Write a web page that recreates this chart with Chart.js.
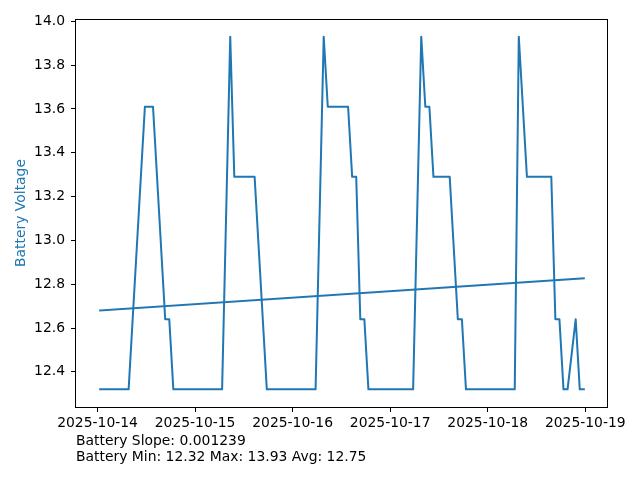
<!DOCTYPE html>
<html>
<head>
<meta charset="utf-8">
<script src="https://cdn.jsdelivr.net/npm/chart.js@4/dist/chart.umd.min.js"></script>
<style>
  body { margin: 0; background: #fff; }
  canvas { display: block; }
</style>
</head>
<body>
<canvas id="chart" width="640" height="480"></canvas>
<script>
// readings (UTC timestamps) and battery voltage at each one
const timestamps = [
    '2025-10-14T00:39', '2025-10-14T07:39', '2025-10-14T11:39', '2025-10-14T13:39',
    '2025-10-14T16:39', '2025-10-14T17:39', '2025-10-14T18:39', '2025-10-15T06:39',
    '2025-10-15T08:39', '2025-10-15T09:39', '2025-10-15T14:39', '2025-10-15T17:39',
    '2025-10-16T05:39', '2025-10-16T07:39', '2025-10-16T08:39', '2025-10-16T13:39',
    '2025-10-16T14:39', '2025-10-16T15:39', '2025-10-16T16:39', '2025-10-16T17:39',
    '2025-10-16T18:39', '2025-10-17T05:39', '2025-10-17T07:39', '2025-10-17T08:39',
    '2025-10-17T09:39', '2025-10-17T10:39', '2025-10-17T14:39', '2025-10-17T16:39',
    '2025-10-17T17:39', '2025-10-17T18:39', '2025-10-18T06:39', '2025-10-18T07:39',
    '2025-10-18T09:39', '2025-10-18T15:39', '2025-10-18T16:39', '2025-10-18T17:39',
    '2025-10-18T18:39', '2025-10-18T19:39', '2025-10-18T21:39', '2025-10-18T22:39',
    '2025-10-18T23:39'
];
const voltages = [
    12.32, 12.32, 13.61, 13.61,
    12.64, 12.64, 12.32, 12.32,
    13.93, 13.29, 13.29, 12.32,
    12.32, 13.93, 13.61, 13.61,
    13.29, 13.29, 12.64, 12.64,
    12.32, 12.32, 13.93, 13.61,
    13.61, 13.29, 13.29, 12.64,
    12.64, 12.32, 12.32, 13.93,
    13.29, 13.29, 12.64, 12.64,
    12.32, 12.32, 12.64, 12.32,
    12.32
];
// fitted trend line, first and last reading
const trendTimes = ['2025-10-14T00:39', '2025-10-18T23:39'];
const trendValues = [12.68, 12.827];

const dateTicks = ['2025-10-14', '2025-10-15', '2025-10-16', '2025-10-17', '2025-10-18', '2025-10-19'];
const voltageTicks = [12.4, 12.6, 12.8, 13.0, 13.2, 13.4, 13.6, 13.8, 14.0];

const infoLines = [
    'Battery Slope: 0.001239',
    'Battery Min: 12.32 Max: 13.93 Avg: 12.75'
];

const BASE = Date.parse('2025-10-14T00:00Z');
const toHours = s => (Date.parse(s + 'Z') - BASE) / 3600000;

const points = timestamps.map((t, i) => ({ x: toHours(t), y: voltages[i] }));
const trend = trendTimes.map((t, i) => ({ x: toHours(t), y: trendValues[i] }));

// matplotlib style 5% margins
const xs = points.map(p => p.x);
const ys = points.map(p => p.y);
const xMin = Math.min(...xs), xMax = Math.max(...xs);
const yMin = Math.min(...ys), yMax = Math.max(...ys);
const xPad = (xMax - xMin) * 0.05;
const yPad = (yMax - yMin) * 0.05;

const FONT = { family: 'DejaVu Sans', size: 13.9 };
const BLUE = '#1f77b4';

const frameAndText = {
    id: 'frameAndText',
    afterDraw(chart) {
        const { ctx, chartArea } = chart;
        ctx.save();
        ctx.strokeStyle = '#000';
        ctx.lineWidth = 1;
        ctx.strokeRect(Math.round(chartArea.left) - 0.5, Math.round(chartArea.top) + 0.5,
            Math.round(chartArea.right - chartArea.left), Math.round(chartArea.bottom - chartArea.top));
        ctx.fillStyle = '#000';
        ctx.font = '13.9px "DejaVu Sans"';
        ctx.textAlign = 'left';
        ctx.textBaseline = 'alphabetic';
        infoLines.forEach((line, i) => {
            ctx.fillText(line, chartArea.left, 445 + i * 16);
        });
        ctx.restore();
    }
};

new Chart(document.getElementById('chart'), {
    type: 'line',
    data: {
        datasets: [
            {
                label: 'Battery Voltage',
                data: points,
                borderColor: BLUE,
                borderWidth: 2,
                pointRadius: 0,
                tension: 0,
                borderCapStyle: 'square',
                borderJoinStyle: 'round',
                fill: false
            },
            {
                label: 'Trend',
                data: trend,
                borderColor: BLUE,
                borderWidth: 2,
                pointRadius: 0,
                borderCapStyle: 'square',
                fill: false
            }
        ]
    },
    options: {
        responsive: false,
        animation: false,
        events: [],
        layout: { padding: { top: 19, right: 32, left: 0, bottom: 0 } },
        plugins: {
            legend: { display: false },
            tooltip: { enabled: false }
        },
        scales: {
            x: {
                type: 'linear',
                min: xMin - xPad,
                max: xMax + xPad,
                afterFit: scale => { scale.height = 73; },
                afterBuildTicks: scale => {
                    scale.ticks = dateTicks.map(d => ({ value: toHours(d + 'T00:00') }));
                },
                border: { display: false },
                grid: {
                    drawOnChartArea: false,
                    drawTicks: true,
                    tickLength: 5,
                    color: '#000'
                },
                ticks: {
                    autoSkip: false,
                    maxRotation: 0,
                    padding: 3,
                    color: '#000',
                    font: FONT,
                    callback: v => new Date(BASE + v * 3600000).toISOString().slice(0, 10)
                }
            },
            y: {
                min: yMin - yPad,
                max: yMax + yPad,
                afterFit: scale => { scale.width = 76; },
                afterBuildTicks: scale => {
                    scale.ticks = voltageTicks.map(v => ({ value: v }));
                },
                border: { display: false },
                grid: {
                    drawOnChartArea: false,
                    drawTicks: true,
                    tickLength: 5,
                    color: '#000'
                },
                ticks: {
                    padding: 6,
                    color: '#000',
                    font: FONT,
                    callback: v => v.toFixed(1)
                },
                title: {
                    display: true,
                    text: 'Battery Voltage',
                    color: BLUE,
                    font: FONT,
                    padding: { top: 13, bottom: 0 }
                }
            }
        }
    },
    plugins: [frameAndText]
});
</script>
</body>
</html>
